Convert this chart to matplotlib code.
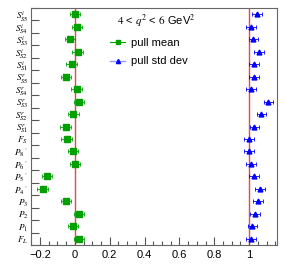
import numpy as np
import matplotlib
matplotlib.use("Agg")
import matplotlib.pyplot as plt
from matplotlib.ticker import MultipleLocator

plt.rcParams['font.family'] = ['Liberation Sans', 'DejaVu Sans']
plt.rcParams['mathtext.fontset'] = 'stix'

# bottom to top
labels = [r"$F_L$", r"$P_1$", r"$P_2$", r"$P_3$", r"$P_4\,'$", r"$P_5\,'$",
          r"$P_6\,'$", r"$P_8\,'$", r"$F_S$",
          r"$S^r_{S1}$", r"$S^r_{S2}$", r"$S^r_{S3}$", r"$S^r_{S4}$", r"$S^r_{S5}$",
          r"$S^i_{S1}$", r"$S^i_{S2}$", r"$S^i_{S3}$", r"$S^i_{S4}$", r"$S^i_{S5}$"]
pull_mean = [0.025, -0.010, 0.023, -0.052, -0.185, -0.159, 0.002, -0.011, -0.048,
             -0.053, -0.008, 0.025, 0.010, -0.050,
             -0.019, 0.015, -0.027, 0.013, 0.002]
mean_err = [0.03] * 19
pull_std = [1.011, 1.019, 1.033, 1.052, 1.063, 1.027, 1.011, 0.998, 1.000,
            1.031, 1.071, 1.111, 1.010, 1.027,
            1.029, 1.057, 1.025, 1.010, 1.046]
std_err = [0.028] * 19

y = np.arange(len(labels))

fig = plt.figure(figsize=(2.87, 2.75), dpi=100)
ax = fig.add_axes([0.108, 0.109, 0.857, 0.862])

ax.axvline(0, color='#e8484a', lw=1.0, zorder=1)
ax.axvline(1, color='#e8484a', lw=1.0, zorder=1)

ax.errorbar(pull_mean, y, xerr=mean_err, fmt='s', color='#00a000', ms=4,
            elinewidth=0.6, capsize=1.2, capthick=0.6, zorder=3)
ax.errorbar(pull_std, y, xerr=std_err, fmt='^', color='#0000ff', ms=3.5,
            elinewidth=0.6, capsize=1.2, capthick=0.6, zorder=3)

ax.set_xlim(-0.252, 1.16)
ax.set_ylim(-0.5, 18.5)

ax.set_yticks(y)
ax.set_yticklabels(labels, fontsize=6.6)
ax.yaxis.set_minor_locator(MultipleLocator(1, offset=0.5))
ax.tick_params(axis='y', which='major', length=0, pad=2)
ax.tick_params(axis='y', which='minor', direction='in', length=6, width=0.8, color='#555555')

ax.xaxis.set_major_locator(MultipleLocator(0.2))
ax.xaxis.set_minor_locator(MultipleLocator(0.05))
ax.set_xticks([-0.2, 0, 0.2, 0.4, 0.6, 0.8, 1.0])
ax.set_xticklabels(['\u22120.2', '0', '0.2', '0.4', '0.6', '0.8', '1'], fontsize=8)
ax.tick_params(axis='x', which='major', direction='in', length=6, width=0.8, color='#555555')
ax.tick_params(axis='x', which='minor', direction='in', length=3, width=0.8, color='#555555')

for s in ax.spines.values():
    s.set_color('#666666')
    s.set_linewidth(0.8)

ax.text(0.35, 0.945, r"$4$ < $q^2$ < $6$ GeV$^2$", transform=ax.transAxes,
        fontsize=8, va='center', ha='left')
h1, = ax.plot([], [], 's-', color='#00a000', ms=3, lw=0.8)
h2, = ax.plot([], [], '^-', color='#9999ff', mfc='#0000ff', mec='#0000ff', ms=3, lw=1.0)
leg = ax.legend([h1, h2], ['pull mean', 'pull std dev'], loc='upper left',
                bbox_to_anchor=(0.28, 0.915), frameon=False, fontsize=8,
                handlelength=1.4, handletextpad=0.5, labelspacing=0.75)

fig.savefig("out.png", dpi=100)
